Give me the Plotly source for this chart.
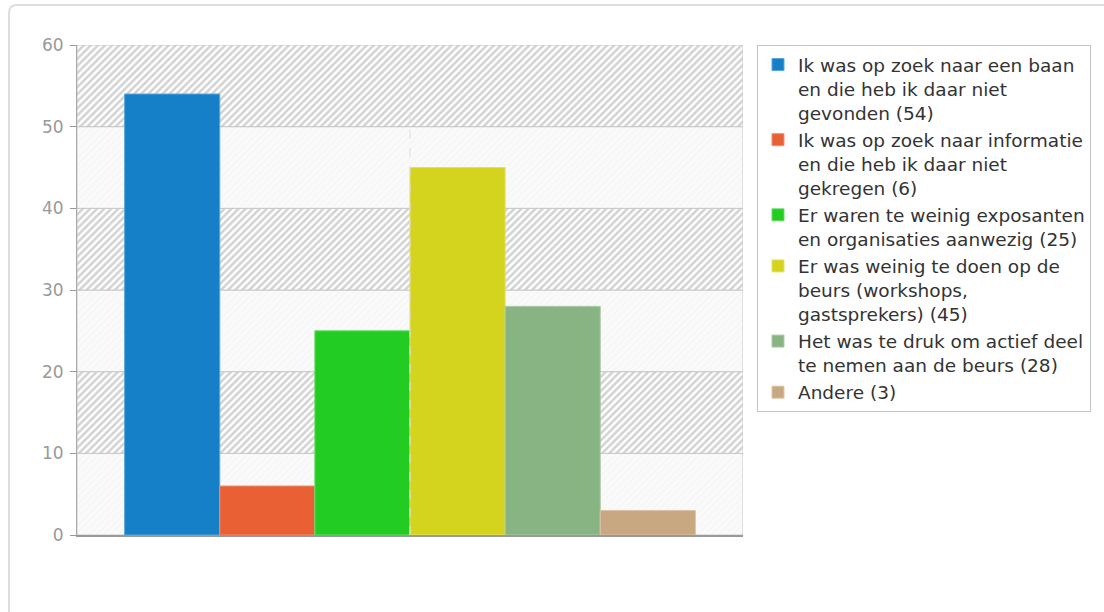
import plotly.graph_objects as go

labels = [
    "Ik was op zoek naar een baan<br>en die heb ik daar niet<br>gevonden (54)",
    "Ik was op zoek naar informatie<br>en die heb ik daar niet<br>gekregen (6)",
    "Er waren te weinig exposanten<br>en organisaties aanwezig (25)",
    "Er was weinig te doen op de<br>beurs (workshops,<br>gastsprekers) (45)",
    "Het was te druk om actief deel<br>te nemen aan de beurs (28)",
    "Andere (3)",
]
values = [54, 6, 25, 45, 28, 3]
colors = ["#1580C8", "#E86034", "#22CC22", "#D4D41E", "#88B484", "#C8A880"]
edge_colors = ["#5AA6DC", "#F09070", "#66DD66", "#E2E260", "#AACCA6", "#DCC4A4"]
y_ticks = [0, 10, 20, 30, 40, 50, 60]

fig = go.Figure()

# background bands (hatched / light)
for i in range(6):
    lo, hi = y_ticks[i], y_ticks[i + 1]
    hatched = (i % 2 == 1)
    fig.add_trace(go.Scatter(
        x=[0, 1, 1, 0, 0], y=[lo, lo, hi, hi, lo],
        xaxis="x", yaxis="y", mode="lines", fill="toself",
        line=dict(color="#c8c8c8", width=1),
        fillcolor="#fafafa" if not hatched else "white",
        fillpattern=dict(shape="/", fgcolor="#a6a6a6" if hatched else "#f0f0f0",
                         bgcolor="#ffffff" if hatched else "#fafafa",
                         size=5, solidity=0.5 if hatched else 0.3),
        hoverinfo="skip", showlegend=False,
    ))

for lab, v, c, ec in zip(labels, values, colors, edge_colors):
    fig.add_trace(go.Bar(
        x=[0], y=[v], name=lab, xaxis="x2", yaxis="y2",
        marker=dict(color=c, line=dict(color=ec, width=1)),
    ))

def px_x(p):
    return (p - 77) / 666

def px_y(p):
    return (535 - p) / 490

x0, x1 = px_x(9), px_x(1115)
yt, yb = px_y(5), px_y(625)
rx, ry = 8 / 666, 8 / 490
frame_path = (f"M {x0},{yb} L {x0},{yt - ry} Q {x0},{yt} {x0 + rx},{yt} "
              f"L {x1},{yt} L {x1},{yb} Z")

fig.update_layout(
    width=1104, height=612,
    margin=dict(l=77, r=361, t=45, b=77),
    paper_bgcolor="white", plot_bgcolor="white",
    barmode="group", bargap=0.143, bargroupgap=0,
    font=dict(family="DejaVu Sans", color="#333333"),
    xaxis=dict(range=[0, 1], showticklabels=False, showgrid=False, zeroline=False,
               ticks="", showline=True, linecolor="#999999", linewidth=2, fixedrange=True),
    yaxis=dict(range=[0, 60], tickvals=y_ticks, ticks="outside", ticklen=6,
               tickcolor="#999999", showline=True, linecolor="#aaaaaa", linewidth=1,
               showgrid=False, zeroline=False, ticklabelstandoff=3,
               tickfont=dict(size=17, color="#999999", family="DejaVu Sans")),
    xaxis2=dict(overlaying="x", range=[-0.5, 0.5], showticklabels=False,
                showgrid=False, zeroline=False, ticks="", showline=False),
    yaxis2=dict(overlaying="y", range=[0, 60], showticklabels=False,
                showgrid=False, zeroline=False, ticks="", showline=False),
    legend=dict(x=1.021, y=1.0, xanchor="left", yanchor="top",
                bgcolor="white", bordercolor="#c4c4c4", borderwidth=1,
                valign="top",
                font=dict(size=18.5, color="#333333", family="DejaVu Sans"),
                tracegroupgap=0),
    shapes=[
        dict(type="line", xref="x2", yref="paper", x0=0, x1=0, y0=0, y1=1,
             line=dict(color="#dddddd", width=1, dash="dash"), layer="above"),
        dict(type="path", xref="paper", yref="paper", path=frame_path,
             line=dict(color="#dddddd", width=2), fillcolor="rgba(0,0,0,0)",
             layer="below"),
    ],
)

fig.write_html("out.html", config={"displayModeBar": False},
               post_script="document.body.style.margin='0px';")
